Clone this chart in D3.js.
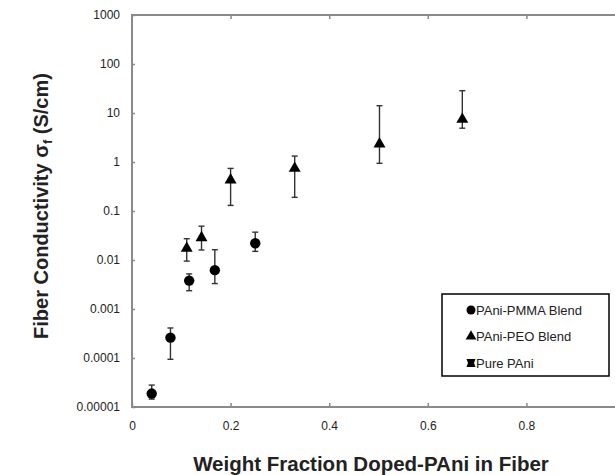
<!DOCTYPE html>
<html>
<head>
<meta charset="utf-8">
<script src="https://cdn.jsdelivr.net/npm/d3@7"></script>
<style>
  body { margin: 0; background: #fff; }
  svg { font-family: "Liberation Sans", Arial, sans-serif; }
</style>
</head>
<body>
<svg width="615" height="475"></svg>
<script>
// PAni-PMMA blend (circles)
var pmmaX = [0.04, 0.078, 0.116, 0.168, 0.25]
var pmmaY = [0.0000188, 0.00026, 0.0038, 0.0062, 0.022]
var pmmaLo = [0.0000145, 0.000094, 0.00236, 0.0033, 0.015]
var pmmaHi = [0.000028, 0.00041, 0.0052, 0.0162, 0.037]

// PAni-PEO blend (triangles)
var peoX = [0.111, 0.141, 0.2, 0.33, 0.502, 0.67]
var peoY = [0.0173, 0.0285, 0.43, 0.74, 2.33, 7.4]
var peoLo = [0.0095, 0.016, 0.13, 0.19, 0.94, 4.9]
var peoHi = [0.0272, 0.049, 0.74, 1.32, 14.1, 28.5]

var xTicks = [0, 0.2, 0.4, 0.6, 0.8]
var yTicks = [0.00001, 0.0001, 0.001, 0.01, 0.1, 1, 10, 100, 1000]
var yTickLabels = ['0.00001', '0.0001', '0.001', '0.01', '0.1', '1', '10', '100', '1000']
var legendNames = ['PAni-PMMA Blend', 'PAni-PEO Blend', 'Pure PAni']

var svg = d3.select('svg')
var plotL = 132, plotR = 625, plotT = 15, plotB = 407
var axisColor = '#8a8a8a'

var x = d3.scaleLinear().domain([0, 1]).range([plotL, plotR])
var y = d3.scaleLog().domain([0.00001, 1000]).range([plotB, plotT])

// frame lines (right edge falls outside the picture)
svg.append('line').attr('x1', plotL).attr('x2', 615).attr('y1', plotT).attr('y2', plotT)
  .attr('stroke', axisColor).attr('stroke-width', 2)
svg.append('line').attr('x1', plotL).attr('x2', 615).attr('y1', plotB).attr('y2', plotB)
  .attr('stroke', axisColor).attr('stroke-width', 2)
svg.append('line').attr('x1', plotL).attr('x2', plotL).attr('y1', plotT - 1).attr('y2', plotB + 1)
  .attr('stroke', axisColor).attr('stroke-width', 2)

// x axis: ticks inside, labels below
var xAxis = svg.append('g').attr('transform', 'translate(0,' + plotB + ')')
  .call(d3.axisBottom(x).tickValues(xTicks).tickSize(-4).tickPadding(14).tickFormat(d3.format('')))
xAxis.select('.domain').remove()
xAxis.selectAll('line').attr('stroke', axisColor).attr('stroke-width', 1.5)
xAxis.selectAll('text').attr('font-size', 12).attr('fill', '#222')
  .attr('font-family', '"Liberation Sans", Arial, sans-serif')

var xTop = svg.append('g').attr('transform', 'translate(0,' + plotT + ')')
  .call(d3.axisTop(x).tickValues(xTicks.slice(1)).tickSize(-4).tickFormat(''))
xTop.select('.domain').remove()
xTop.selectAll('line').attr('stroke', axisColor).attr('stroke-width', 1.5)

// y axis: ticks inside, labels left
var yAxis = svg.append('g').attr('transform', 'translate(' + plotL + ',0)')
  .call(d3.axisLeft(y).tickValues(yTicks).tickSize(-3).tickPadding(12)
    .tickFormat(function (d, i) { return yTickLabels[i] }))
yAxis.select('.domain').remove()
yAxis.selectAll('line').attr('stroke', axisColor).attr('stroke-width', 1.5)
yAxis.selectAll('text').attr('font-size', 12).attr('fill', '#222')
  .attr('font-family', '"Liberation Sans", Arial, sans-serif')

// error bars
function errorBars (xs, lo, hi) {
  var g = svg.append('g').attr('stroke', '#333').attr('stroke-width', 1.4)
  xs.forEach(function (xv, i) {
    g.append('line').attr('x1', x(xv)).attr('x2', x(xv)).attr('y1', y(lo[i])).attr('y2', y(hi[i]))
    g.append('line').attr('x1', x(xv) - 3).attr('x2', x(xv) + 3).attr('y1', y(lo[i])).attr('y2', y(lo[i]))
    g.append('line').attr('x1', x(xv) - 3).attr('x2', x(xv) + 3).attr('y1', y(hi[i])).attr('y2', y(hi[i]))
  })
}
errorBars(pmmaX, pmmaLo, pmmaHi)
errorBars(peoX, peoLo, peoHi)

var circle = d3.symbol().type(d3.symbolCircle).size(85)
var tri = d3.symbol().type(d3.symbolTriangle).size(62)

svg.append('g').selectAll('path').data(pmmaX).enter().append('path')
  .attr('d', circle)
  .attr('transform', function (d, i) { return 'translate(' + x(d) + ',' + y(pmmaY[i]) + ')' })
  .attr('fill', '#000')

svg.append('g').selectAll('path').data(peoX).enter().append('path')
  .attr('d', tri)
  .attr('transform', function (d, i) { return 'translate(' + x(d) + ',' + y(peoY[i]) + ')' })
  .attr('fill', '#000')

// legend
var lg = svg.append('g').attr('transform', 'translate(442,294)')
lg.append('rect').attr('width', 167).attr('height', 82)
  .attr('fill', '#fff').attr('stroke', '#000').attr('stroke-width', 1.5)

var bowtie = 'M-4.5,-4 L4.5,-4 L3,0 L4.5,4 L-4.5,4 L-3,0 Z'
legendNames.forEach(function (name, i) {
  var cy = 16 + i * 26.5
  var sym = lg.append('path').attr('transform', 'translate(29,' + cy + ')').attr('fill', '#000')
  if (i === 0) sym.attr('d', d3.symbol().type(d3.symbolCircle).size(64))
  else if (i === 1) sym.attr('d', d3.symbol().type(d3.symbolTriangle).size(50))
  else sym.attr('d', bowtie)
  lg.append('text').attr('x', 34).attr('y', cy + 4.5).attr('font-size', 13).attr('fill', '#222')
    .text(name)
})

// axis titles
svg.append('text').attr('x', 371).attr('y', 471).attr('text-anchor', 'middle')
  .attr('font-size', 20.5).attr('font-weight', 'bold').attr('fill', '#222')
  .text('Weight Fraction Doped-PAni in Fiber')

var yt = svg.append('text').attr('transform', 'translate(48,206) rotate(-90)')
  .attr('text-anchor', 'middle').attr('font-size', 20).attr('font-weight', 'bold').attr('fill', '#222')
yt.append('tspan').text('Fiber Conductivity σ')
yt.append('tspan').attr('font-size', 13).attr('dy', 4).text('f')
yt.append('tspan').attr('dy', -4).text(' (S/cm)')
</script>
</body>
</html>
